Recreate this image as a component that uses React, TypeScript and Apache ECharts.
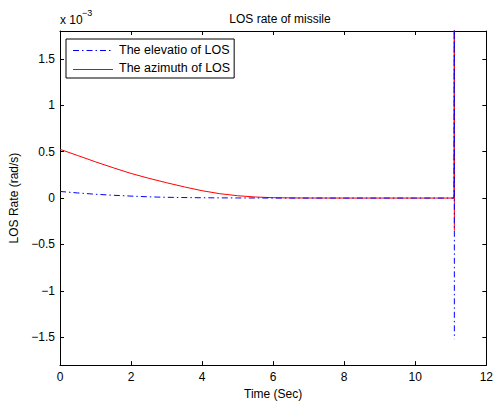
import React, { useEffect, useRef } from "react";
import * as echarts from "echarts";

const timeElev = [0, 0.5, 1, 1.5, 2, 2.5, 3, 4, 5, 6, 8, 10, 11.09, 11.1, 11.1, 11.1];
const elevation = [0.071, 0.055, 0.041, 0.03, 0.021, 0.013, 0.008, 0.003, 0.001, 0, 0, 0, 0, 0, 2.5, -1.52];
const timeAzim = [0, 0.5, 1, 1.5, 2, 2.5, 3, 3.5, 4, 4.5, 5, 5.5, 6, 6.5, 7, 8, 10, 11.09, 11.1, 11.1, 11.1];
const azimuth = [0.525, 0.458, 0.39, 0.326, 0.265, 0.213, 0.165, 0.12, 0.079, 0.047, 0.025, 0.011, 0.004, 0.0015, 0.0005, 0, 0, 0, 0, 2.5, -0.35];
const yTicks = [-1.5, -1, -0.5, 0, 0.5, 1, 1.5];
const seriesNames = ["The elevatio of LOS", "The azimuth of LOS"];

const FONT = "Liberation Sans, Arial, Helvetica, sans-serif";
const BLUE_DASH = [6, 3, 1.5, 3];

export default function App() {
  const ref = useRef<HTMLDivElement>(null);
  useEffect(() => {
    document.body.style.margin = "0";
    const chart = echarts.init(ref.current!, null, { renderer: "svg" });
    const fmt = (v: number) => String(v).replace("-", "\u2212");
    const axisBase = {
      axisLine: { show: true, onZero: false, lineStyle: { color: "#000", width: 1 } },
      axisTick: { show: true, inside: true, length: 4, lineStyle: { color: "#000" } },
      splitLine: { show: false },
    };
    const tickY = { show: true, inside: true, length: 4, lineStyle: { color: "#000" }, customValues: yTicks };
    chart.setOption({
      animation: false,
      backgroundColor: "#fff",
      textStyle: { fontFamily: FONT },
      title: {
        text: "LOS rate of missile",
        left: 275,
        top: 8,
        textAlign: "center",
        textStyle: { fontSize: 12, fontWeight: "normal", color: "#000", fontFamily: FONT },
      },
      graphic: [
        {
          type: "text",
          left: 60,
          top: 14,
          style: { text: "x 10", fontSize: 12, fontFamily: FONT, fill: "#000" },
        },
        {
          type: "text",
          left: 82,
          top: 8,
          style: { text: "\u22123", fontSize: 9, fontFamily: FONT, fill: "#000" },
        },
        {
          type: "line",
          z: 100,
          shape: { x1: 73, y1: 50.5, x2: 113, y2: 50.5 },
          style: { stroke: "#0000ff", lineWidth: 1, lineDash: BLUE_DASH },
        },
        {
          type: "line",
          z: 100,
          shape: { x1: 73, y1: 69.5, x2: 113, y2: 69.5 },
          style: { stroke: "#ff0000", lineWidth: 1 },
        },
      ],
      legend: {
        left: 66,
        top: 39,
        orient: "vertical",
        selectedMode: false,
        borderColor: "#000",
        borderWidth: 1,
        padding: [4, 4, 4, 7],
        itemWidth: 40,
        itemHeight: 14,
        itemGap: 5,
        itemStyle: { opacity: 0 },
        lineStyle: { opacity: 0 },
        data: seriesNames,
        textStyle: { fontSize: 12.5, color: "#000", fontFamily: FONT },
        backgroundColor: "#fff",
      },
      grid: { left: 60, top: 31, right: 7, bottom: 36, containLabel: false },
      xAxis: [
        {
          type: "value",
          min: 0,
          max: 12,
          interval: 2,
          position: "bottom",
          name: "Time (Sec)",
          nameLocation: "middle",
          nameGap: 19,
          nameTextStyle: { fontSize: 12, color: "#000", fontFamily: FONT },
          axisLabel: { fontSize: 12, color: "#000", margin: 6, fontFamily: FONT },
          ...axisBase,
        },
        {
          type: "value",
          min: 0,
          max: 12,
          interval: 2,
          position: "top",
          axisLabel: { show: false },
          ...axisBase,
        },
      ],
      yAxis: [
        {
          type: "value",
          min: -1.8,
          max: 1.8,
          position: "left",
          name: "LOS Rate (rad/s)",
          nameLocation: "middle",
          nameGap: 37,
          nameTextStyle: { fontSize: 12, color: "#000", fontFamily: FONT },
          axisLabel: { fontSize: 12, color: "#000", margin: 5, fontFamily: FONT, formatter: fmt, customValues: yTicks },
          ...axisBase,
          axisTick: tickY,
        },
        {
          type: "value",
          min: -1.8,
          max: 1.8,
          position: "right",
          axisLabel: { show: false, customValues: yTicks },
          ...axisBase,
          axisTick: tickY,
        },
      ],
      series: [
        {
          name: seriesNames[0],
          type: "line",
          showSymbol: false,
          symbol: "none",
          clip: true,
          data: timeElev.map((t, i) => [t, elevation[i]]),
          itemStyle: { color: "#0000ff" },
          lineStyle: { color: "#0000ff", width: 1, type: BLUE_DASH },
          z: 3,
        },
        {
          name: seriesNames[1],
          type: "line",
          showSymbol: false,
          symbol: "none",
          clip: true,
          data: timeAzim.map((t, i) => [t, azimuth[i]]),
          itemStyle: { color: "#ff0000" },
          lineStyle: { color: "#ff0000", width: 1 },
          z: 2,
        },
      ],
    });
    return () => chart.dispose();
  }, []);
  return <div ref={ref} style={{ width: 496, height: 405 }} />;
}
